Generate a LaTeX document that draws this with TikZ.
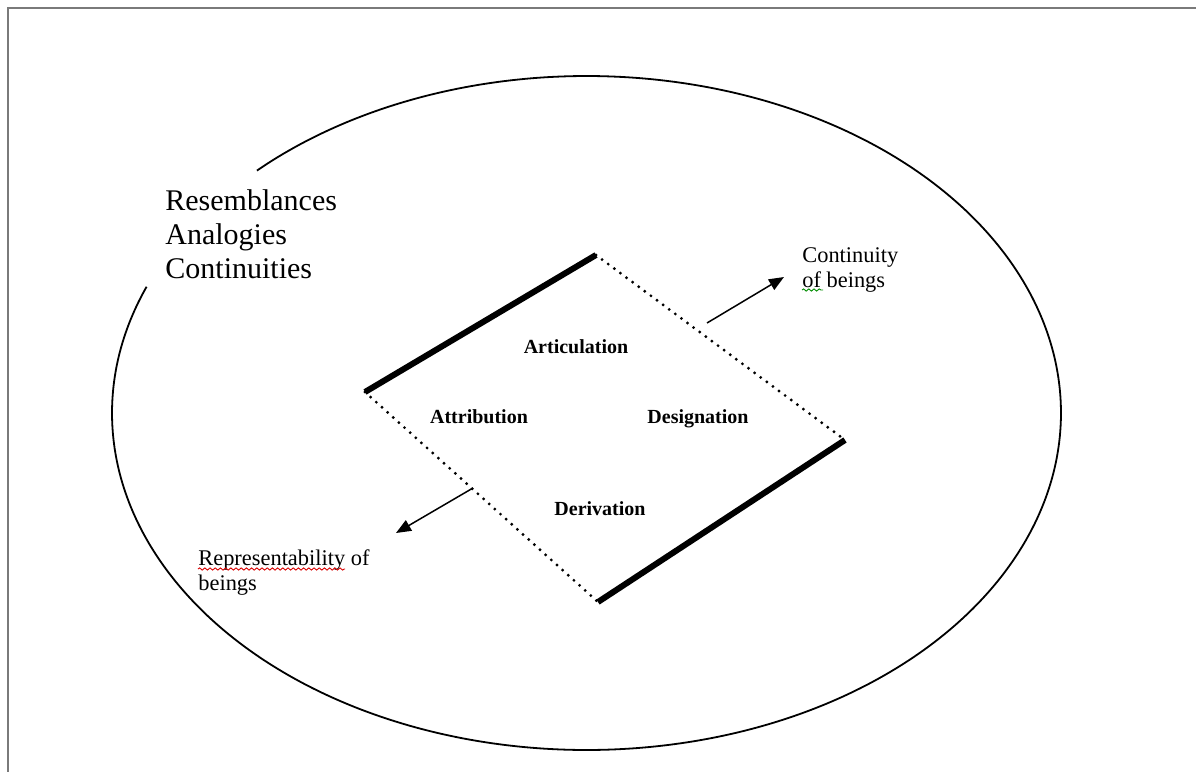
\documentclass[tikz,border=0pt]{standalone}
\usepackage{fontspec}
\setmainfont{Liberation Serif}
\usetikzlibrary{arrows.meta,decorations.pathmorphing}
\begin{document}
\begin{tikzpicture}[x=0.5pt,y=-0.5pt,
  frameline/.style={draw=black!52, line width=1.4pt},
  ringline/.style={line width=0.9pt},
  heavyedge/.style={line width=3pt},
  dottededge/.style={line width=1.6pt, dash pattern=on 0pt off 3.8pt, line cap=round},
  pointer/.style={line width=0.75pt, -{Triangle[length=7.5pt,width=6pt]}},
  quadlabel/.style={inner sep=0pt, anchor=base, font=\bfseries\fontsize{10}{12}\selectfont},
  biglabel/.style={inner sep=0pt, anchor=base west, font=\fontsize{15}{17}\selectfont},
  smalllabel/.style={inner sep=0pt, anchor=base west, font=\fontsize{11.2}{12.5}\selectfont},
  spellmark/.style={line width=0.45pt, decorate, decoration={snake, amplitude=0.55pt, segment length=2.6pt}}
]
\useasboundingbox (0,0) rectangle (1196,772);

% page frame: top and left edges only
\draw[frameline] (8,772) -- (8,8) -- (1196,8);

% outer ring, open where the heading text sits
\draw[ringline] plot[domain=158:494, samples=240, smooth]
  ({586.5+474.5*cos(\x)}, {413-337*sin(\x)});

% heading text
\node[biglabel] (res) at (165,210) {Resemblances};
\node[biglabel] (ana) at (165,244) {Analogies};
\node[biglabel] (con) at (165,278) {Continuities};

% quadrilateral corners
\coordinate (qtop) at (596,255);
\coordinate (qleft) at (365,392);
\coordinate (qright) at (845,440);
\coordinate (qbottom) at (598,602);

\draw[heavyedge] (qleft) -- (qtop);
\draw[heavyedge] (qright) -- (qbottom);
\draw[dottededge] (qtop) -- (qright);
\draw[dottededge] (qleft) -- (qbottom);

% the four functions
\node[quadlabel] (articulation) at (576,353) {Articulation};
\node[quadlabel] (attribution) at (479,423) {Attribution};
\node[quadlabel] (designation) at (698,423) {Designation};
\node[quadlabel] (derivation) at (600,515) {Derivation};

% outgoing labels
\node[smalllabel] (cont1) at (802,262) {Continuity};
\node[smalllabel] (cont2) at (802,287) {of beings};
\node[smalllabel] (rep1) at (198,565) {Representability of};
\node[smalllabel] (rep2) at (198,590) {beings};

% arrows
\coordinate (a1s) at (707,323);
\coordinate (a1e) at (784,277);
\coordinate (a2s) at (473,488);
\coordinate (a2e) at (396,533);
\draw[pointer] (a1s) -- (a1e);
\draw[pointer] (a2s) -- (a2e);

% spelling marks under words
\draw[spellmark, red!85!black] (198,569) -- (345,569);
\draw[spellmark, green!55!black] (802,290) -- (823,290);
\end{tikzpicture}
\end{document}
